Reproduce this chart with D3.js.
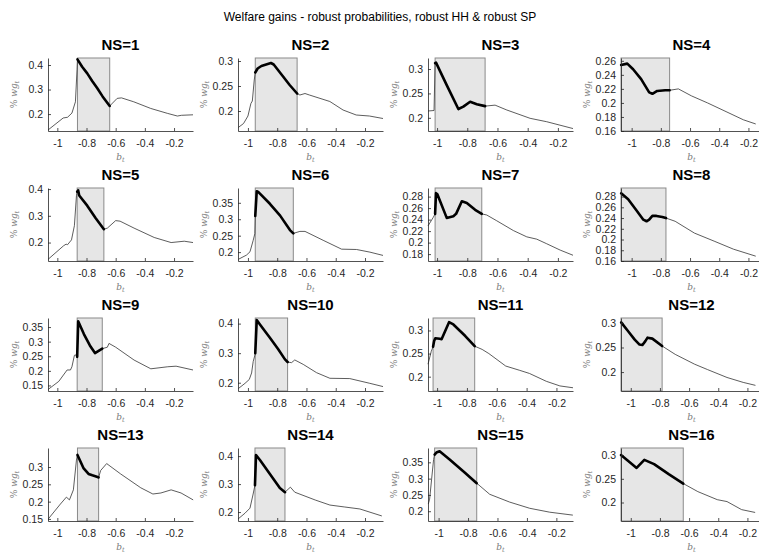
<!DOCTYPE html>
<html><head><meta charset="utf-8">
<script src="https://cdn.jsdelivr.net/npm/d3@7"></script>
<style>body{margin:0;background:#fff;} svg{display:block}</style>
</head><body><svg id="c" width="759" height="556"></svg>
<script>
const mainTitle = "Welfare gains - robust probabilities, robust HH & robust SP";
const panelTitles = ["NS=1","NS=2","NS=3","NS=4","NS=5","NS=6","NS=7","NS=8","NS=9","NS=10","NS=11","NS=12","NS=13","NS=14","NS=15","NS=16"];
const xTicks = [-1, -0.8, -0.6, -0.4, -0.2];

const b1 = [-1.064,-0.96,-0.93,-0.90,-0.876,-0.865,-0.862,-0.83,-0.795,-0.76,-0.726,-0.69,-0.641,-0.59,-0.56,-0.476,-0.36,-0.246,-0.177,-0.15,-0.07];
const w1 = [0.135,0.184,0.187,0.204,0.25,0.38,0.423,0.393,0.366,0.334,0.305,0.272,0.233,0.264,0.266,0.25,0.223,0.203,0.192,0.195,0.197];
const b2 = [-1.066,-1.03,-1.0,-0.98,-0.97,-0.957,-0.95,-0.934,-0.908,-0.843,-0.824,-0.76,-0.715,-0.664,-0.645,-0.61,-0.58,-0.44,-0.35,-0.26,-0.17,-0.077];
const w2 = [0.167,0.175,0.19,0.215,0.22,0.262,0.277,0.285,0.29,0.296,0.293,0.269,0.252,0.235,0.232,0.235,0.232,0.219,0.202,0.192,0.19,0.185];
const b3 = [-1.06,-1.02,-1.013,-1.007,-0.936,-0.859,-0.826,-0.781,-0.737,-0.682,-0.616,-0.538,-0.384,-0.274,-0.1];
const w3 = [0.214,0.215,0.312,0.313,0.267,0.218,0.223,0.233,0.228,0.224,0.226,0.216,0.199,0.192,0.178];
const b4 = [-1.072,-1.03,-0.99,-0.935,-0.88,-0.858,-0.825,-0.77,-0.74,-0.68,-0.59,-0.48,-0.347,-0.235,-0.15];
const w4 = [0.254,0.256,0.248,0.234,0.215,0.213,0.217,0.218,0.218,0.22,0.21,0.2,0.187,0.176,0.17];
const b5 = [-1.064,-0.957,-0.94,-0.93,-0.903,-0.883,-0.869,-0.864,-0.857,-0.85,-0.795,-0.738,-0.681,-0.657,-0.6,-0.57,-0.474,-0.336,-0.22,-0.13,-0.07];
const w5 = [0.137,0.188,0.194,0.192,0.21,0.263,0.375,0.39,0.395,0.376,0.338,0.292,0.25,0.254,0.282,0.28,0.254,0.219,0.2,0.205,0.2];
const b6 = [-1.066,-1.01,-0.986,-0.964,-0.953,-0.95,-0.94,-0.93,-0.85,-0.78,-0.713,-0.69,-0.645,-0.61,-0.486,-0.36,-0.258,-0.167,-0.077];
const w6 = [0.178,0.191,0.201,0.236,0.256,0.31,0.385,0.383,0.347,0.311,0.267,0.257,0.263,0.263,0.236,0.209,0.208,0.2,0.19];
const b7 = [-1.06,-1.025,-1.013,-1.007,-0.998,-0.936,-0.892,-0.874,-0.836,-0.803,-0.748,-0.704,-0.671,-0.605,-0.495,-0.406,-0.34,-0.274,-0.185,-0.1];
const w7 = [0.229,0.244,0.25,0.286,0.284,0.243,0.246,0.25,0.272,0.269,0.257,0.25,0.248,0.238,0.221,0.21,0.206,0.198,0.187,0.178];
const b8 = [-1.072,-1.024,-0.969,-0.92,-0.898,-0.88,-0.858,-0.83,-0.79,-0.765,-0.702,-0.57,-0.435,-0.302,-0.15];
const w8 = [0.286,0.275,0.255,0.237,0.234,0.237,0.244,0.244,0.242,0.24,0.234,0.212,0.197,0.182,0.169];
const b9 = [-1.064,-0.99,-0.933,-0.91,-0.9,-0.883,-0.876,-0.869,-0.864,-0.857,-0.818,-0.777,-0.742,-0.692,-0.657,-0.646,-0.6,-0.474,-0.359,-0.243,-0.186,-0.07];
const w9 = [0.136,0.164,0.203,0.203,0.214,0.253,0.255,0.25,0.248,0.37,0.326,0.287,0.261,0.276,0.281,0.294,0.281,0.237,0.207,0.214,0.216,0.203];
const b10 = [-1.066,-1.02,-0.991,-0.975,-0.964,-0.952,-0.95,-0.94,-0.918,-0.85,-0.793,-0.747,-0.729,-0.702,-0.68,-0.622,-0.531,-0.44,-0.304,-0.167,-0.077];
const w10 = [0.18,0.198,0.211,0.233,0.272,0.294,0.3,0.412,0.397,0.352,0.313,0.279,0.27,0.268,0.277,0.262,0.234,0.215,0.214,0.198,0.187];
const b11 = [-1.061,-1.039,-1.027,-1.02,-1.012,-0.982,-0.97,-0.92,-0.891,-0.811,-0.748,-0.698,-0.653,-0.54,-0.449,-0.381,-0.268,-0.177,-0.089];
const w11 = [0.227,0.255,0.265,0.277,0.283,0.282,0.281,0.318,0.313,0.288,0.266,0.259,0.25,0.223,0.214,0.207,0.19,0.18,0.176];
const b12 = [-1.066,-1.018,-0.973,-0.94,-0.92,-0.9,-0.885,-0.852,-0.785,-0.695,-0.562,-0.473,-0.34,-0.229,-0.145];
const w12 = [0.301,0.283,0.266,0.256,0.255,0.263,0.27,0.268,0.253,0.236,0.216,0.205,0.189,0.179,0.173];
const b13 = [-1.062,-0.979,-0.938,-0.917,-0.89,-0.869,-0.862,-0.821,-0.786,-0.76,-0.724,-0.717,-0.703,-0.662,-0.566,-0.428,-0.345,-0.29,-0.22,-0.152,-0.069];
const w13 = [0.15,0.193,0.213,0.205,0.234,0.32,0.335,0.297,0.28,0.276,0.271,0.27,0.29,0.31,0.28,0.24,0.222,0.225,0.234,0.225,0.205];
const b14 = [-1.068,-1.02,-0.986,-0.966,-0.952,-0.945,-0.918,-0.85,-0.782,-0.747,-0.71,-0.68,-0.54,-0.44,-0.338,-0.235,-0.085];
const w14 = [0.175,0.196,0.214,0.261,0.296,0.404,0.386,0.336,0.286,0.271,0.289,0.271,0.243,0.225,0.218,0.211,0.186];
const b15 = [-1.07,-1.061,-1.034,-1.027,-1.015,-0.993,-0.925,-0.823,-0.741,-0.653,-0.517,-0.381,-0.245,-0.088];
const w15 = [0.222,0.237,0.359,0.374,0.38,0.384,0.359,0.319,0.286,0.252,0.228,0.209,0.197,0.188];
const b16 = [-1.067,-1.007,-0.96,-0.907,-0.84,-0.74,-0.64,-0.54,-0.407,-0.34,-0.24,-0.147];
const w16 = [0.3,0.285,0.273,0.29,0.281,0.26,0.24,0.223,0.206,0.202,0.185,0.179];

const shadeLo = [-0.862,-0.95,-1.013,-1.073,-0.864,-0.95,-1.013,-1.073,-0.864,-0.95,-1.027,-1.067,-0.862,-0.952,-1.027,-1.067];
const shadeHi = [-0.641,-0.664,-0.682,-0.74,-0.681,-0.69,-0.704,-0.765,-0.692,-0.729,-0.748,-0.785,-0.717,-0.747,-0.741,-0.64];

const xMin = [-1.064,-1.068,-1.06,-1.073,-1.064,-1.068,-1.06,-1.073,-1.064,-1.068,-1.061,-1.067,-1.064,-1.068,-1.072,-1.067];
const xMax = [-0.07,-0.077,-0.1,-0.107,-0.07,-0.077,-0.1,-0.107,-0.07,-0.077,-0.089,-0.1,-0.07,-0.077,-0.087,-0.1];
const yMin = [0.131,0.16,0.173,0.16,0.131,0.173,0.168,0.16,0.131,0.172,0.169,0.1615,0.144,0.168,0.17,0.161];
const yMax = [0.4286,0.306,0.3226,0.264,0.404,0.395,0.295,0.296,0.381,0.419,0.327,0.31,0.355,0.429,0.394,0.315];

const yTicks1 = [0.2,0.3,0.4], yTicks2 = [0.2,0.25,0.3], yTicks3 = [0.2,0.25,0.3];
const yTicks4 = [0.16,0.18,0.2,0.22,0.24,0.26], yTicks5 = [0.2,0.3,0.4], yTicks6 = [0.2,0.25,0.3,0.35];
const yTicks7 = [0.18,0.2,0.22,0.24,0.26,0.28], yTicks8 = [0.16,0.18,0.2,0.22,0.24,0.26,0.28];
const yTicks9 = [0.15,0.2,0.25,0.3,0.35], yTicks10 = [0.2,0.3,0.4], yTicks11 = [0.2,0.25,0.3], yTicks12 = [0.2,0.25,0.3];
const yTicks13 = [0.15,0.2,0.25,0.3], yTicks14 = [0.2,0.3,0.4], yTicks15 = [0.2,0.25,0.3,0.35], yTicks16 = [0.2,0.25,0.3];

const bs = [b1,b2,b3,b4,b5,b6,b7,b8,b9,b10,b11,b12,b13,b14,b15,b16];
const ws = [w1,w2,w3,w4,w5,w6,w7,w8,w9,w10,w11,w12,w13,w14,w15,w16];
const yts = [yTicks1,yTicks2,yTicks3,yTicks4,yTicks5,yTicks6,yTicks7,yTicks8,yTicks9,yTicks10,yTicks11,yTicks12,yTicks13,yTicks14,yTicks15,yTicks16];

const svg = d3.select("#c");
const FONT = "'Liberation Sans', Arial, Helvetica, sans-serif";
const colLeft = [48, 238, 428, 621], rowTop = [58, 188, 318, 448];
const colW = [145, 145, 145, 141], H = 73;

svg.append("text").attr("x", 380).attr("y", 21).attr("text-anchor", "middle")
  .attr("font-family", FONT).attr("font-size", 12).attr("fill", "#000").text(mainTitle);

for (let i = 0; i < 16; i++) {
  const r = Math.floor(i / 4), c = i % 4;
  const W = colW[c];
  const g = svg.append("g").attr("transform", `translate(${colLeft[c]},${rowTop[r]})`);
  const x = d3.scaleLinear().domain([xMin[i], xMax[i]]).range([0, W]);
  const y = d3.scaleLinear().domain([yMin[i], yMax[i]]).range([H, 0]);

  g.append("rect").attr("x", x(shadeLo[i])).attr("y", 0)
    .attr("width", x(shadeHi[i]) - x(shadeLo[i])).attr("height", H)
    .attr("fill", "#e6e6e6").attr("stroke", "#8a8a8a").attr("stroke-width", 1);

  const pts = bs[i].map((b, k) => [b, ws[i][k]]);
  const line = d3.line().x(d => x(d[0])).y(d => y(d[1]));
  g.append("path").attr("d", line(pts)).attr("fill", "none")
    .attr("stroke", "#333").attr("stroke-width", 0.8);
  const bold = pts.filter(d => d[0] >= shadeLo[i] - 1e-9 && d[0] <= shadeHi[i] + 1e-9);
  g.append("path").attr("d", line(bold)).attr("fill", "none")
    .attr("stroke", "#000").attr("stroke-width", 2.6)
    .attr("stroke-linejoin", "round").attr("stroke-linecap", "round");

  const xa = g.append("g").attr("transform", `translate(0,${H})`)
    .call(d3.axisBottom(x).tickValues(xTicks).tickSizeInner(-3).tickSizeOuter(0).tickPadding(9)
      .tickFormat(d => String(d)));
  const ya = g.append("g")
    .call(d3.axisLeft(y).tickValues(yts[i]).tickSizeInner(-3).tickSizeOuter(0).tickPadding(5)
      .tickFormat(d => String(d)));
  [xa, ya].forEach(a => {
    a.selectAll("path").attr("stroke", "#262626").attr("stroke-width", 0.8);
    a.selectAll("line").attr("stroke", "#262626").attr("stroke-width", 0.8);
    a.selectAll("text").attr("font-family", FONT).attr("font-size", 10.5).attr("fill", "#262626");
  });

  g.append("text").attr("x", W / 2).attr("y", -8).attr("text-anchor", "middle")
    .attr("font-family", FONT).attr("font-size", 15).attr("font-weight", "bold").text(panelTitles[i]);

  const xl = g.append("text").attr("x", W / 2).attr("y", H + 29).attr("text-anchor", "middle")
    .attr("font-family", "'DejaVu Serif', 'Liberation Serif', serif").attr("font-style", "italic")
    .attr("font-size", 9).attr("fill", "#7a7a7a");
  xl.append("tspan").text("b");
  xl.append("tspan").attr("font-size", 6.5).attr("dy", 2).text("t");

  const yl = g.append("text").attr("transform", `translate(-31,${H / 2}) rotate(-90)`).attr("text-anchor", "middle")
    .attr("font-family", "'DejaVu Serif', 'Liberation Serif', serif")
    .attr("font-size", 9).attr("fill", "#7a7a7a");
  yl.append("tspan").attr("font-style", "normal").text("% ");
  yl.append("tspan").attr("font-style", "italic").text("wg");
  yl.append("tspan").attr("font-style", "italic").attr("font-size", 6.5).attr("dy", 2).text("t");
}
</script></body></html>
